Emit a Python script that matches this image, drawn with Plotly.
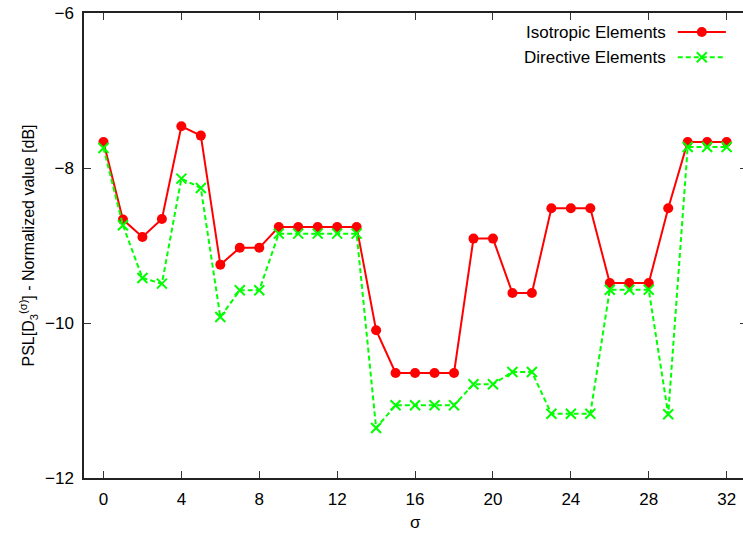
import plotly.graph_objects as go

sigma = list(range(33))
isotropic = [-7.665, -8.666, -8.89, -8.658, -7.462, -7.582, -9.247, -9.03, -9.03,
             -8.761, -8.761, -8.761, -8.761, -8.761, -10.094,
             -10.645, -10.645, -10.645, -10.645, -8.911, -8.911, -9.613, -9.613,
             -8.52, -8.52, -8.52, -9.484, -9.484, -9.484, -8.52,
             -7.665, -7.665, -7.665]
directive = [-7.742, -8.739, -9.419, -9.492, -8.137, -8.258, -9.923, -9.578, -9.578,
             -8.847, -8.847, -8.847, -8.847, -8.847, -11.355,
             -11.062, -11.062, -11.062, -11.062, -10.79, -10.79, -10.632, -10.632,
             -11.17, -11.17, -11.17, -9.57, -9.57, -9.57, -11.178,
             -7.73, -7.73, -7.73]
series_names = ["Isotropic Elements", "Directive Elements"]
x_ticks = [0, 4, 8, 12, 16, 20, 24, 28, 32]
y_ticks = [-12, -10, -8, -6]

RED = "#ff0000"
GREEN = "#00ff00"
FONT = "Liberation Sans, Arial, sans-serif"
FS = 17

fig = go.Figure()
fig.add_trace(go.Scatter(
    x=sigma, y=isotropic, mode="lines+markers", name=series_names[0],
    line=dict(color=RED, width=2),
    marker=dict(symbol="circle", size=10, color=RED),
    showlegend=False))
fig.add_trace(go.Scatter(
    x=sigma, y=directive, mode="lines+markers", name=series_names[1],
    line=dict(color=GREEN, width=2, dash="5px,3px"),
    marker=dict(symbol="x-thin", size=10, line=dict(color=GREEN, width=2)),
    showlegend=False))

axis_common = dict(showgrid=False, zeroline=False, ticks="inside",
                   tickcolor="#333", tickwidth=1,
                   tickfont=dict(family=FONT, size=FS, color="black"))

fig.update_layout(
    width=743, height=535,
    margin=dict(l=84, r=0, t=13, b=57),
    paper_bgcolor="white", plot_bgcolor="white",
    font=dict(family=FONT, size=FS, color="black"),
    xaxis=dict(range=[-1, 32.84], tickvals=x_ticks, ticklen=7,
               showline=True, linecolor="#222", linewidth=1.5,
               ticklabelstandoff=5, **axis_common),
    yaxis=dict(range=[-12, -6], tickvals=y_ticks, ticklen=7,
               showline=True, linecolor="#222", linewidth=1.5,
               ticklabelstandoff=5, **axis_common),
    xaxis2=dict(range=[-1, 32.84], tickvals=x_ticks, ticklen=7, overlaying="x",
                side="top", showticklabels=False, showline=True,
                linecolor="#222", linewidth=1.5, **axis_common),
    yaxis2=dict(range=[-12, -6], tickvals=y_ticks, ticklen=3, overlaying="y",
                side="right", showticklabels=False, showline=False, **axis_common),
)
# invisible trace to activate mirror axes
fig.add_trace(go.Scatter(x=[None], y=[None], xaxis="x2", yaxis="y2",
                         showlegend=False, hoverinfo="skip"))

# axis titles
fig.add_annotation(text="PSL[D<sub>3</sub><sup>(σ)</sup>] - Normalized value [dB]",
                   xref="paper", yref="paper", x=-0.085, y=0.5,
                   xanchor="center", yanchor="middle", textangle=-90,
                   showarrow=False, font=dict(family=FONT, size=16))
fig.add_annotation(text="σ", xref="paper", yref="paper", x=0.5035, y=-0.096,
                   xanchor="center", yanchor="middle", showarrow=False,
                   font=dict(family=FONT, size=FS))

# gnuplot-style key (text left, sample right)
key_y = [0.959, 0.905]
colors = [RED, GREEN]
for name, ky, col, dash in zip(series_names, key_y, colors, ["solid", "5px,3px"]):
    fig.add_annotation(text=name, xref="paper", yref="paper", x=0.886, y=ky,
                       xanchor="right", yanchor="middle", showarrow=False,
                       font=dict(family=FONT, size=FS))
    fig.add_shape(type="line", xref="paper", yref="paper",
                  x0=0.901, x1=0.974, y0=ky, y1=ky,
                  line=dict(color=col, width=2, dash=dash))
# key markers
fig.add_shape(type="circle", xref="paper", yref="paper",
              x0=0.9375 - 5/659, x1=0.9375 + 5/659,
              y0=key_y[0] - 5/465, y1=key_y[0] + 5/465,
              fillcolor=RED, line=dict(color=RED, width=0))
for sx in (1, -1):
    fig.add_shape(type="line", xref="paper", yref="paper",
                  x0=0.9375 - 5/659, x1=0.9375 + 5/659,
                  y0=key_y[1] - sx*5/465, y1=key_y[1] + sx*5/465,
                  line=dict(color=GREEN, width=2))

fig.write_html("out.html")
